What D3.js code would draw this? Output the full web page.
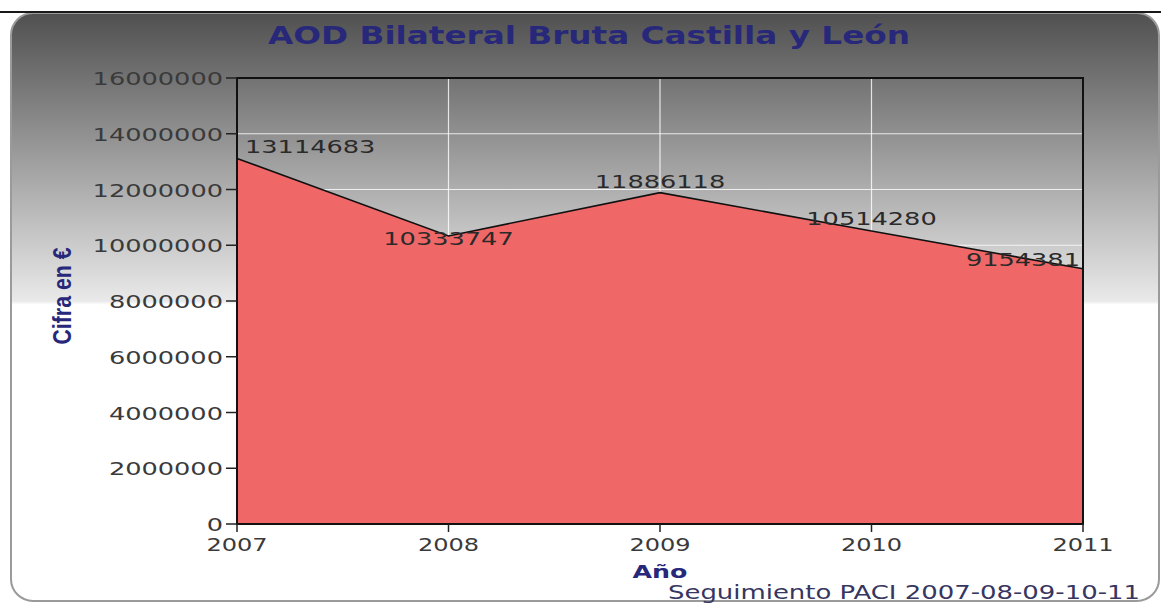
<!DOCTYPE html>
<html>
<head>
<meta charset="utf-8">
<script src="https://cdn.jsdelivr.net/npm/d3@7"></script>
<style>
    body { margin: 0; background: #fff; }
    svg { display: block; }
    text { font-family: "DejaVu Sans", Verdana, sans-serif; }
</style>
</head>
<body>
<svg id="chart_svg" width="1161" height="605"></svg>
<script>
// chart data
const years = [2007, 2008, 2009, 2010, 2011];
const amounts = [13114683, 10333747, 11886118, 10514280, 9154381];
const y_ticks = [0, 2000000, 4000000, 6000000, 8000000, 10000000, 12000000, 14000000, 16000000];
const title_text = "AOD Bilateral Bruta Castilla y León";
const x_title = "Año";
const y_title = "Cifra en €";
const footer_text = "Seguimiento PACI 2007-08-09-10-11";

const svg = d3.select("#chart_svg");
const chr_w = 16.3; // stretched glyph width of the source picture

// background gradient
const defs = svg.append("defs");
const grad = defs.append("linearGradient").attr("id", "bg_grad")
    .attr("x1", 0).attr("y1", 0).attr("x2", 0).attr("y2", 1);
grad.append("stop").attr("offset", "0%").attr("stop-color", "#505050");
grad.append("stop").attr("offset", "49%").attr("stop-color", "#e9e9e9");
grad.append("stop").attr("offset", "49.6%").attr("stop-color", "#ffffff");
grad.append("stop").attr("offset", "100%").attr("stop-color", "#ffffff");

svg.append("rect").attr("x", 11).attr("y", 13).attr("width", 1148).attr("height", 588)
    .attr("rx", 22).attr("ry", 22)
    .attr("style", "fill:url(#bg_grad); stroke:#9a9a9a; stroke-width:2");
svg.append("line").attr("x1", 0).attr("x2", 1161).attr("y1", 12).attr("y2", 12)
    .attr("style", "stroke:#1a1a1a; stroke-width:2");

// scales
const x = d3.scaleLinear().domain([2007, 2011]).range([237, 1083]);
const y = d3.scaleLinear().domain([0, 16000000]).range([524, 78]);

// grid
const g = svg.append("g");
g.selectAll(".hgrid").data(y_ticks.slice(1, -1)).join("line").classed("hgrid", true)
    .attr("x1", x(2007)).attr("x2", x(2011)).attr("y1", d => y(d)).attr("y2", d => y(d))
    .attr("style", "stroke:#ffffff; stroke-opacity:0.8; stroke-width:1.2");
g.selectAll(".vgrid").data(years.slice(1, -1)).join("line").classed("vgrid", true)
    .attr("x1", d => x(d)).attr("x2", d => x(d)).attr("y1", y(16000000)).attr("y2", y(0))
    .attr("style", "stroke:#ffffff; stroke-opacity:0.8; stroke-width:1.2");

// area + line
const pts = years.map((yr, i) => [yr, amounts[i]]);
g.append("path").datum(pts)
    .attr("d", d3.area().x(d => x(d[0])).y0(y(0)).y1(d => y(d[1])))
    .attr("style", "fill:#f06767; stroke:none");
g.append("path").datum(pts)
    .attr("d", d3.line().x(d => x(d[0])).y(d => y(d[1])))
    .attr("style", "fill:none; stroke:#111; stroke-width:1.6");

// frame
g.append("path")
    .attr("d", "M" + x(2007) + "," + y(0) + "V" + y(16000000) + "H" + x(2011) + "V" + y(0) + "Z")
    .attr("style", "fill:none; stroke:#111; stroke-width:2");

// y axis ticks + labels
g.selectAll(".ytick").data(y_ticks).join("line").classed("ytick", true)
    .attr("x1", x(2007) - 11).attr("x2", x(2007)).attr("y1", d => y(d)).attr("y2", d => y(d))
    .attr("style", "stroke:#222; stroke-width:1.5");
g.selectAll(".ylabel").data(y_ticks).join("text").classed("ylabel", true)
    .attr("x", x(2007) - 14).attr("y", d => y(d) + 7)
    .attr("text-anchor", "end").attr("font-size", 18.5).attr("fill", "#3a3a3a")
    .attr("textLength", d => String(d).length * chr_w).attr("lengthAdjust", "spacingAndGlyphs")
    .text(d => d);

// x axis ticks + labels
g.selectAll(".xtick").data(years).join("line").classed("xtick", true)
    .attr("x1", d => x(d)).attr("x2", d => x(d)).attr("y1", y(0)).attr("y2", y(0) + 8)
    .attr("style", "stroke:#222; stroke-width:1.5");
g.selectAll(".xlabel").data(years).join("text").classed("xlabel", true)
    .attr("x", d => x(d)).attr("y", 551)
    .attr("text-anchor", "middle").attr("font-size", 18.5).attr("fill", "#3a3a3a")
    .attr("textLength", d => String(d).length * 15.3).attr("lengthAdjust", "spacingAndGlyphs")
    .text(d => d);

// value labels
const anchors = ["start", "middle", "middle", "middle", "end"];
const dxs = [8, 0, 0, 0, -3];
const dys = [-5, 9, -5, -6, -3];
g.selectAll(".vlabel").data(pts).join("text").classed("vlabel", true)
    .attr("x", (d, i) => x(d[0]) + dxs[i]).attr("y", (d, i) => y(d[1]) + dys[i])
    .attr("text-anchor", (d, i) => anchors[i]).attr("font-size", 18.5).attr("fill", "#2a2a2a")
    .attr("textLength", d => String(d[1]).length * chr_w).attr("lengthAdjust", "spacingAndGlyphs")
    .text(d => d[1]);

// titles
svg.append("text").attr("x", 589).attr("y", 44).attr("text-anchor", "middle")
    .attr("font-size", 24).attr("font-weight", "bold").attr("fill", "#28287a")
    .attr("textLength", 642).attr("lengthAdjust", "spacingAndGlyphs")
    .text(title_text);
svg.append("text").attr("x", 660).attr("y", 578).attr("text-anchor", "middle")
    .attr("font-size", 18).attr("font-weight", "bold").attr("fill", "#28287a")
    .attr("textLength", 55).attr("lengthAdjust", "spacingAndGlyphs")
    .text(x_title);
svg.append("text").attr("transform", "translate(71,296) rotate(-90)").attr("text-anchor", "middle")
    .attr("font-size", 26).attr("font-weight", "bold").attr("fill", "#28287a")
    .attr("style", "font-family:'Liberation Sans Narrow','Arial Narrow','Liberation Sans',sans-serif")
    .attr("textLength", 97).attr("lengthAdjust", "spacingAndGlyphs")
    .text(y_title);
svg.append("text").attr("x", 1140).attr("y", 599).attr("text-anchor", "end")
    .attr("font-size", 19).attr("fill", "#363660")
    .attr("textLength", 472).attr("lengthAdjust", "spacingAndGlyphs")
    .text(footer_text);
</script>
</body>
</html>
